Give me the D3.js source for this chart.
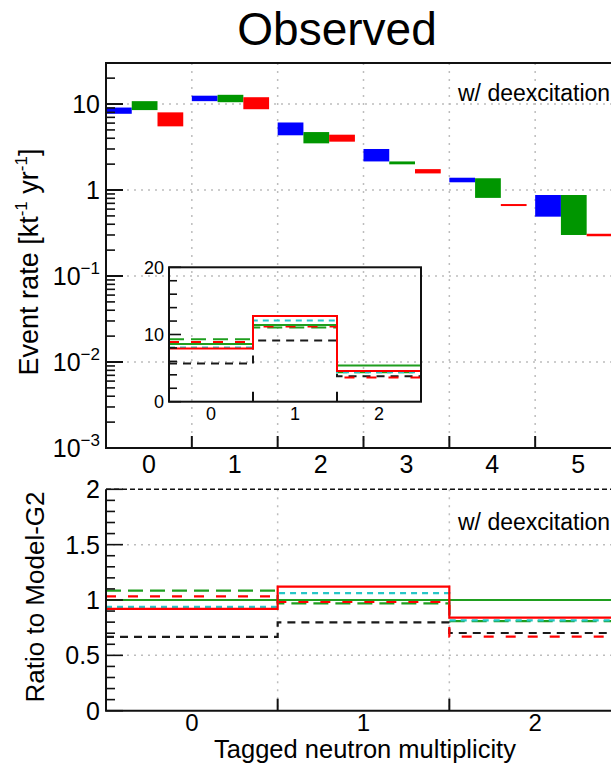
<!DOCTYPE html>
<html>
<head>
<meta charset="utf-8">
<script src="https://cdn.jsdelivr.net/npm/d3@7"></script>
<style>
  body { margin: 0; background: #fff; }
  svg { display: block; font-family: "Liberation Sans", Arial, Helvetica, sans-serif; }
</style>
</head>
<body>
<svg id="chart" width="611" height="765"></svg>
<script>
// ---- Event rate bands per tagged-neutron multiplicity (kt^-1 yr^-1) ----
const multiplicity = [0, 1, 2, 3, 4, 5];
const blueLow   = [7.7, 10.8, 4.33, 2.15, 1.23, 0.49];
const blueHigh  = [9.1, 12.5, 6.1, 3.0, 1.39, 0.875];
const greenLow  = [8.5, 10.5, 3.49, 1.99, 0.81, 0.30];
const greenHigh = [10.8, 12.8, 4.72, 2.15, 1.37, 0.875];
const redLow    = [5.5, 8.7, 3.65, 1.56, 0.652, 0.29];
const redHigh   = [8.0, 12.0, 4.40, 1.75, 0.687, 0.31];
const mainTickLabels = ["10", "-3", "10", "-2", "10", "-1", "1", "10"];

// ---- Zoomed linear view of the first three bins ----
const insetBins = [0, 1, 2];
const insetG2          = [8.6, 11.4, 5.4];
const insetRedSolid    = [7.9, 12.75, 4.55];
const insetCyanDashed  = [8.05, 12.1, 4.4];
const insetGreenDashed = [9.3, 11.05, 4.37];
const insetRedDashed   = [8.9, 11.2, 3.6];
const insetBlackDashed = [5.7, 9.1, 3.8];
const insetTickLabels  = ["0", "10", "20"];

// ---- Ratios to Model-G2 ----
const ratioBins = [0, 1, 2];
const ratioG2          = [1.0, 1.0, 1.0];
const ratioRedSolid    = [0.919, 1.12, 0.840];
const ratioCyanDashed  = [0.937, 1.063, 0.816];
const ratioGreenDashed = [1.084, 0.970, 0.810];
const ratioRedDashed   = [1.033, 0.982, 0.669];
const ratioBlackDashed = [0.666, 0.798, 0.702];
const ratioTickLabels  = ["0", "0.5", "1", "1.5", "2"];

const svg = d3.select("#chart");
const BLUE = "#0000ff", GREEN = "#009600", RED = "#ff0000";
const LGREEN = "#1f9e1f", CYAN = "#25c6c6", BLACK = "#1a1a1a";
const GRID = "#bdbdbd";

// Title
svg.append("text").attr("x", 337).attr("y", 45).attr("text-anchor", "middle")
  .attr("font-size", 46).text("Observed");

// ================= Upper panel: log-scale event rate =================
const mx = d3.scaleLinear().domain([-0.5, 5.5]).range([106, 621]);
const my = d3.scaleLog().domain([1e-3, 30]).range([448, 63]);
const main = svg.append("g");

// dotted grid
const decades = [1e-2, 1e-1, 1, 10];
main.selectAll(".hg").data(decades).join("line")
  .attr("x1", mx(-0.5)).attr("x2", mx(5.5))
  .attr("y1", d => my(d)).attr("y2", d => my(d))
  .attr("stroke", GRID).attr("stroke-width", 1.5).attr("stroke-dasharray", "2,5");
const mainEdges = multiplicity.slice(0, -1).map(d => d + 0.5);
main.selectAll(".vg").data(mainEdges).join("line")
  .attr("x1", d => mx(d)).attr("x2", d => mx(d))
  .attr("y1", my(30)).attr("y2", my(1e-3))
  .attr("stroke", GRID).attr("stroke-width", 1.5).attr("stroke-dasharray", "2,6");

// bands: three models per bin
const bandSets = [
  { low: blueLow, high: blueHigh, color: BLUE, off: 0 },
  { low: greenLow, high: greenHigh, color: GREEN, off: 0.3 },
  { low: redLow, high: redHigh, color: RED, off: 0.6 }
];
bandSets.forEach(s => {
  main.append("g").selectAll("rect").data(multiplicity).join("rect")
    .attr("x", d => mx(d - 0.5 + s.off))
    .attr("width", mx(0.3) - mx(0))
    .attr("y", (d, i) => my(s.high[i]))
    .attr("height", (d, i) => Math.max(2, my(s.low[i]) - my(s.high[i])))
    .attr("fill", s.color);
});

// frame
main.append("rect").attr("x", mx(-0.5)).attr("y", my(30))
  .attr("width", mx(5.5) - mx(-0.5)).attr("height", my(1e-3) - my(30))
  .attr("fill", "none").attr("stroke", "#111").attr("stroke-width", 2);

// left axis ticks
const majorLog = [1e-3, 1e-2, 1e-1, 1, 10];
const minorLog = [];
[1e-3, 1e-2, 1e-1, 1, 10].forEach(b => { for (let m = 2; m <= 9; m++) if (b * m <= 30) minorLog.push(b * m); });
main.selectAll(".mjt").data(majorLog).join("line")
  .attr("x1", mx(-0.5)).attr("x2", mx(-0.5) + 17)
  .attr("y1", d => my(d)).attr("y2", d => my(d))
  .attr("stroke", "#111").attr("stroke-width", 2);
main.selectAll(".mnt").data(minorLog).join("line")
  .attr("x1", mx(-0.5)).attr("x2", mx(-0.5) + 9)
  .attr("y1", d => my(d)).attr("y2", d => my(d))
  .attr("stroke", "#111").attr("stroke-width", 1.6);

// left axis labels (power-of-ten notation)
const labelParts = [
  [mainTickLabels[0], mainTickLabels[1]],
  [mainTickLabels[2], mainTickLabels[3]],
  [mainTickLabels[4], mainTickLabels[5]],
  [mainTickLabels[6], null],
  [mainTickLabels[7], null]
];
majorLog.forEach((v, i) => {
  const t = main.append("text").attr("x", 100).attr("y", my(v) + 9)
    .attr("text-anchor", "end").attr("font-size", 25);
  const [base, exp] = labelParts[i];
  t.append("tspan").text(base);
  if (exp) t.append("tspan").attr("font-size", 17).attr("dy", -11)
    .text(exp.replace("-", "\u2212"));
});

// bottom axis ticks at bin edges, labels at bin centres
main.selectAll(".xt").data(mainEdges).join("line")
  .attr("x1", d => mx(d)).attr("x2", d => mx(d))
  .attr("y1", my(1e-3)).attr("y2", my(1e-3) - 12)
  .attr("stroke", "#111").attr("stroke-width", 2);
main.selectAll(".xl").data(multiplicity).join("text")
  .attr("x", d => mx(d)).attr("y", 473).attr("text-anchor", "middle")
  .attr("font-size", 25).text(d => d);

// y-axis title
const yt = main.append("text").attr("transform", "translate(38,262) rotate(-90)")
  .attr("text-anchor", "middle").attr("font-size", 27);
yt.append("tspan").text("Event rate [kt");
yt.append("tspan").attr("font-size", 17).attr("dy", -11).text("-1");
yt.append("tspan").attr("dy", 11).text(" yr");
yt.append("tspan").attr("font-size", 17).attr("dy", -11).text("-1");
yt.append("tspan").attr("dy", 11).text("]");

main.append("text").attr("x", 458).attr("y", 101).attr("font-size", 23)
  .text("w/ deexcitation");

// ---- Step histogram helper ----
function stepPath(xs, ys, bins, vals) {
  const pts = bins.map((b, i) => [b - 0.5, vals[i]]);
  pts.push([bins[bins.length - 1] + 0.5, vals[vals.length - 1]]);
  return d3.line().x(p => xs(p[0])).y(p => ys(p[1])).curve(d3.curveStepAfter)(pts);
}
const lineStyles = [
  { key: "black", color: BLACK, dash: "8,6" },
  { key: "greenDashed", color: LGREEN, dash: "15,7" },
  { key: "redDashed", color: RED, dash: "10,12" },
  { key: "cyan", color: CYAN, dash: "6,5" },
  { key: "g2", color: LGREEN, dash: null },
  { key: "redSolid", color: RED, dash: null }
];

// ================= Inset: linear zoom =================
const ix = d3.scaleLinear().domain([-0.5, 2.5]).range([169, 421]);
const iy = d3.scaleLinear().domain([0, 20]).range([401.7, 267.3]);
const inset = svg.append("g");
inset.append("clipPath").attr("id", "insetClip").append("rect")
  .attr("x", ix(-0.5)).attr("y", iy(20)).attr("width", ix(2.5) - ix(-0.5)).attr("height", iy(0) - iy(20));
const insetSeries = {
  black: insetBlackDashed, greenDashed: insetGreenDashed, redDashed: insetRedDashed,
  cyan: insetCyanDashed, g2: insetG2, redSolid: insetRedSolid
};
lineStyles.forEach(s => {
  inset.append("path").attr("d", stepPath(ix, iy, insetBins, insetSeries[s.key]))
    .attr("fill", "none").attr("stroke", s.color).attr("stroke-width", 2)
    .attr("stroke-dasharray", s.dash).attr("clip-path", "url(#insetClip)");
});
inset.append("rect").attr("x", ix(-0.5)).attr("y", iy(20))
  .attr("width", ix(2.5) - ix(-0.5)).attr("height", iy(0) - iy(20))
  .attr("fill", "none").attr("stroke", "#111").attr("stroke-width", 2);
const insetTicks = d3.range(0, 21, 2);
inset.selectAll(".it").data(insetTicks).join("line")
  .attr("x1", ix(-0.5)).attr("x2", d => ix(-0.5) + (d % 10 === 0 ? 12 : 8))
  .attr("y1", d => iy(d)).attr("y2", d => iy(d))
  .attr("stroke", "#111").attr("stroke-width", 1.6);
inset.selectAll(".il").data(insetTickLabels).join("text")
  .attr("x", 164).attr("y", d => iy(+d) + 6.5).attr("text-anchor", "end")
  .attr("font-size", 18).text(d => d);
inset.selectAll(".ixt").data([0.5, 1.5]).join("line")
  .attr("x1", d => ix(d)).attr("x2", d => ix(d))
  .attr("y1", iy(0)).attr("y2", iy(0) - 10)
  .attr("stroke", "#111").attr("stroke-width", 2);
inset.selectAll(".ixl").data(insetBins).join("text")
  .attr("x", d => ix(d)).attr("y", 420).attr("text-anchor", "middle")
  .attr("font-size", 18).text(d => d);

// ================= Lower panel: ratio to Model-G2 =================
const rx = d3.scaleLinear().domain([-0.5, 2.5]).range([106, 621]);
const ry = d3.scaleLinear().domain([0, 2]).range([710.7, 489.3]);
const ratio = svg.append("g");

ratio.selectAll(".rhg").data([0.5, 1, 1.5]).join("line")
  .attr("x1", rx(-0.5)).attr("x2", rx(2.5))
  .attr("y1", d => ry(d)).attr("y2", d => ry(d))
  .attr("stroke", GRID).attr("stroke-width", 1.5).attr("stroke-dasharray", "2,5");
ratio.selectAll(".rvg").data([0.5, 1.5]).join("line")
  .attr("x1", d => rx(d)).attr("x2", d => rx(d))
  .attr("y1", ry(2)).attr("y2", ry(0))
  .attr("stroke", GRID).attr("stroke-width", 1.5).attr("stroke-dasharray", "2,6");

const ratioSeries = {
  black: ratioBlackDashed, greenDashed: ratioGreenDashed, redDashed: ratioRedDashed,
  cyan: ratioCyanDashed, g2: ratioG2, redSolid: ratioRedSolid
};
lineStyles.forEach(s => {
  ratio.append("path").attr("d", stepPath(rx, ry, ratioBins, ratioSeries[s.key]))
    .attr("fill", "none").attr("stroke", s.color).attr("stroke-width", 2.2)
    .attr("stroke-dasharray", s.dash);
});

// axes frame: solid left/bottom, dashed top
ratio.append("path")
  .attr("d", `M${rx(-0.5)},${ry(2)}V${ry(0)}H${rx(2.5)}V${ry(2)}`)
  .attr("fill", "none").attr("stroke", "#111").attr("stroke-width", 2);
ratio.append("line").attr("x1", rx(-0.5)).attr("x2", rx(2.5))
  .attr("y1", ry(2)).attr("y2", ry(2))
  .attr("stroke", "#111").attr("stroke-width", 1.5).attr("stroke-dasharray", "5,3");

const rTicks = d3.range(0, 21).map(d => d / 10);
ratio.selectAll(".rt").data(rTicks).join("line")
  .attr("x1", rx(-0.5)).attr("x2", (d, i) => rx(-0.5) + (i % 5 === 0 ? 17 : 9))
  .attr("y1", d => ry(d)).attr("y2", d => ry(d))
  .attr("stroke", "#111").attr("stroke-width", 1.6);
ratio.selectAll(".rl").data(ratioTickLabels).join("text")
  .attr("x", 100).attr("y", d => ry(+d) + 9).attr("text-anchor", "end")
  .attr("font-size", 25).text(d => d);
ratio.selectAll(".rxt").data([0.5, 1.5]).join("line")
  .attr("x1", d => rx(d)).attr("x2", d => rx(d))
  .attr("y1", ry(0)).attr("y2", ry(0) - 12)
  .attr("stroke", "#111").attr("stroke-width", 2);
ratio.selectAll(".rxl").data(ratioBins).join("text")
  .attr("x", d => rx(d)).attr("y", 731).attr("text-anchor", "middle")
  .attr("font-size", 24).text(d => d);

ratio.append("text").attr("x", 365).attr("y", 758).attr("text-anchor", "middle")
  .attr("font-size", 25.5).text("Tagged neutron multiplicity");
ratio.append("text").attr("transform", "translate(44,597) rotate(-90)")
  .attr("text-anchor", "middle").attr("font-size", 26).text("Ratio to Model-G2");
ratio.append("text").attr("x", 458).attr("y", 530).attr("font-size", 23)
  .text("w/ deexcitation");
</script>
</body>
</html>
